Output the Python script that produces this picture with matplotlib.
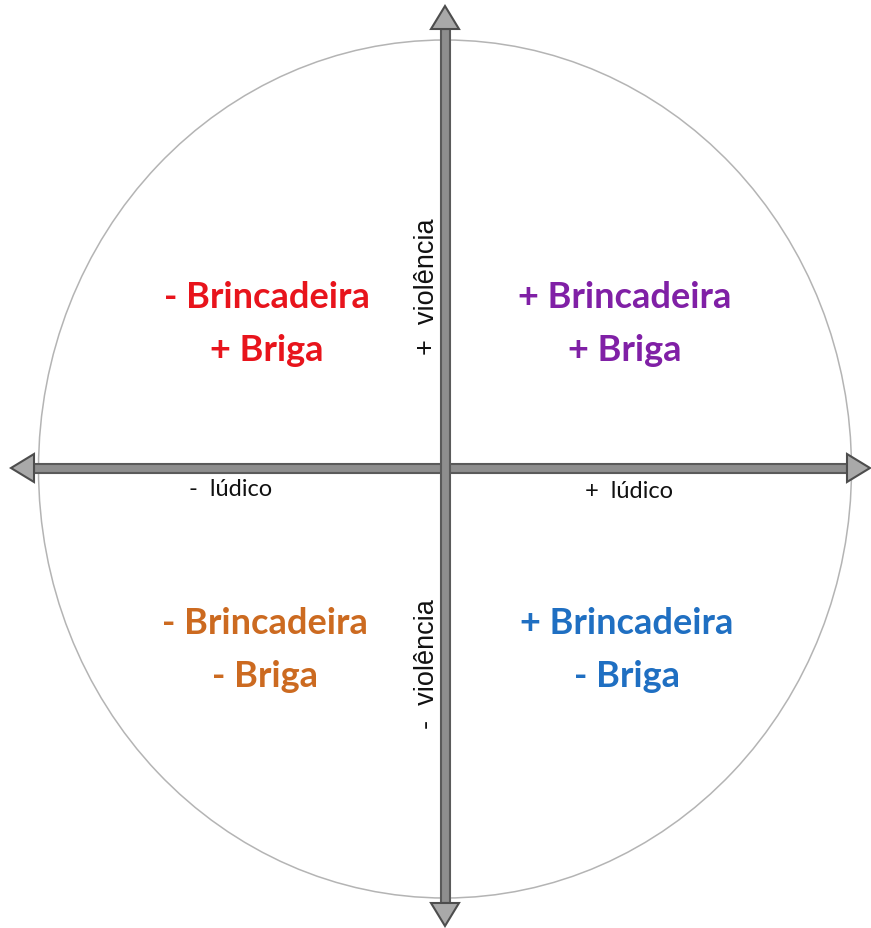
import matplotlib
matplotlib.use("Agg")
import matplotlib.pyplot as plt
from matplotlib.patches import Ellipse, Rectangle, Polygon

# ---- data ----
quadrant_lines = [
    ["- Brincadeira", "+ Briga"],
    ["+ Brincadeira", "+ Briga"],
    ["- Brincadeira", "- Briga"],
    ["+ Brincadeira", "- Briga"],
]
quadrant_colors = ["#e8141c", "#8020a6", "#cc6a20", "#1f6fc2"]
quadrant_pos = [(267, 324), (625, 324), (265, 650), (627, 650)]
x_axis_labels = ["-  lúdico", "+  lúdico"]
x_label_pos = [(231, 490), (629, 492)]
y_axis_labels = ["+  violência", "-  violência"]
y_label_pos = [(427, 287), (427, 664)]

W, H = 871, 929
cx, cy = 445, 469

fig = plt.figure(figsize=(W / 100, H / 100), dpi=100)
ax = fig.add_axes([0, 0, 1, 1])
ax.set_xlim(0, W)
ax.set_ylim(H, 0)
ax.axis("off")

# circle
ax.add_patch(Ellipse((cx, 470), 813, 858, fill=False, edgecolor="#b4b4b4", lw=1.1, zorder=1))

shaft_fc, shaft_ec = "#8e8e8e", "#5a5a5a"
head_fc, head_ec = "#a9a9a9", "#4d4d4d"
sw = 9      # shaft width
hw, hl = 28, 23

# horizontal axis
left_tip, right_tip = 11, 870
ax.add_patch(Rectangle((left_tip + hl, cy - sw / 2), right_tip - left_tip - 2 * hl, sw,
                       facecolor=shaft_fc, edgecolor=shaft_ec, lw=1.5, zorder=2))
# vertical axis
top_tip, bot_tip = 7, 927
ax.add_patch(Rectangle((cx - sw / 2, top_tip + hl), sw, bot_tip - top_tip - 2 * hl,
                       facecolor=shaft_fc, edgecolor=shaft_ec, lw=1.5, zorder=2))
# heads
heads = [
    [(left_tip, cy), (left_tip + hl, cy - hw / 2), (left_tip + hl, cy + hw / 2)],
    [(right_tip, cy), (right_tip - hl, cy - hw / 2), (right_tip - hl, cy + hw / 2)],
    [(cx, top_tip), (cx - hw / 2, top_tip + hl), (cx + hw / 2, top_tip + hl)],
    [(cx, bot_tip), (cx - hw / 2, bot_tip - hl), (cx + hw / 2, bot_tip - hl)],
]
for h in heads:
    ax.add_patch(Polygon(h, closed=True, facecolor=head_fc, edgecolor=head_ec, lw=1.5, zorder=3))

# quadrant labels
for lines, col, (x, y) in zip(quadrant_lines, quadrant_colors, quadrant_pos):
    ax.text(x, y, "\n".join(lines), color=col, fontsize=26, fontweight="bold",
            family="Lato", ha="center", va="center", linespacing=1.75, zorder=4)

for t, (x, y) in zip(x_axis_labels, x_label_pos):
    ax.text(x, y, t, fontsize=17, family="Lato", ha="center", va="center", color="#111111")

for t, (x, y) in zip(y_axis_labels, y_label_pos):
    ax.text(x, y, t, fontsize=19.5, family="Liberation Sans", ha="center", va="center",
            rotation=90, color="#111111")

fig.savefig("out.png", dpi=100)
